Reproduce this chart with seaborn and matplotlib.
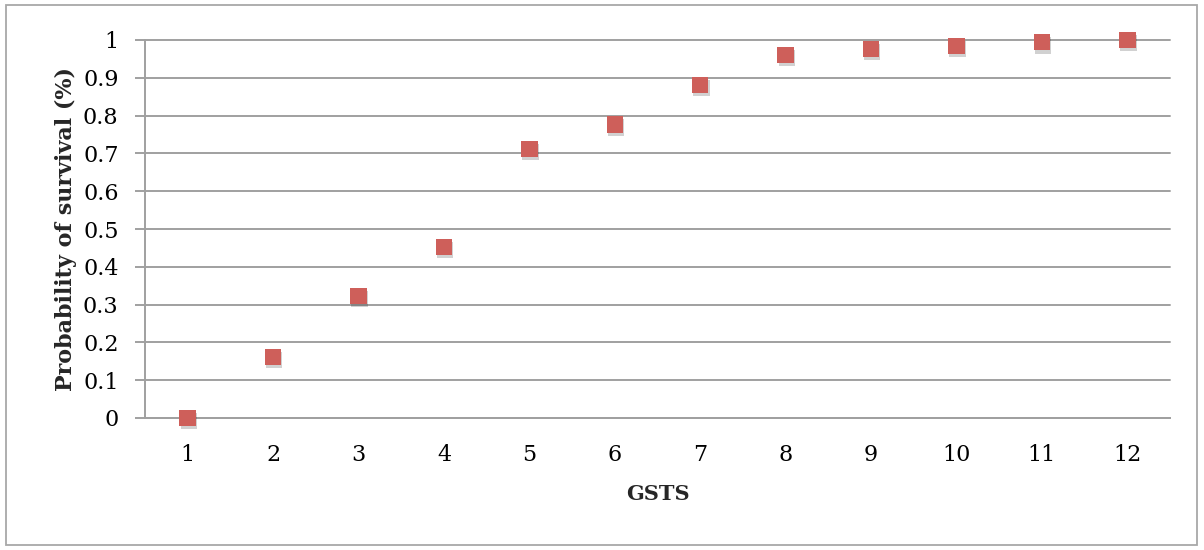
import matplotlib
matplotlib.use("Agg")
import matplotlib.pyplot as plt
import matplotlib.patheffects as pe
import seaborn as sns
import pandas as pd
from matplotlib.patches import Rectangle

# GSTS category and probability of survival
gsts = [1, 2, 3, 4, 5, 6, 7, 8, 9, 10, 11, 12]
survival = [0.0, 0.162, 0.323, 0.452, 0.712, 0.777, 0.881, 0.960, 0.976, 0.984, 0.994, 1.0]
y_ticks = [0, 0.1, 0.2, 0.3, 0.4, 0.5, 0.6, 0.7, 0.8, 0.9, 1]
y_tick_labels = ["0", "0.1", "0.2", "0.3", "0.4", "0.5", "0.6", "0.7", "0.8", "0.9", "1"]

df = pd.DataFrame({"GSTS": gsts, "survival": survival})

sns.set_theme(style="white")
plt.rcParams["font.family"] = ["DejaVu Serif"]

fig = plt.figure(figsize=(12.04, 5.5), dpi=100)
ax = fig.add_axes([145 / 1204, 1 - 418 / 550, (1170 - 145) / 1204, (418 - 40) / 550])

grid_color = "#A0A0A0"
marker_color = "#CE5F5A"

ax.set_xlim(0.5, 12.5)
ax.set_ylim(0, 1)
ax.set_yticks(y_ticks)
ax.set_yticklabels(y_tick_labels)
ax.set_xticks(gsts)
ax.set_xticklabels([str(g) for g in gsts])

for yv in y_ticks:
    ax.axhline(yv, color=grid_color, lw=1.4, zorder=1, clip_on=False)

sns.scatterplot(
    data=df, x="GSTS", y="survival", ax=ax, marker="s", s=140,
    color=marker_color, linewidth=0, zorder=3, clip_on=False,
    path_effects=[pe.SimplePatchShadow(offset=(0.8, -2.2), shadow_rgbFace="#000000", alpha=0.18), pe.Normal()],
)

for side in ["top", "right"]:
    ax.spines[side].set_visible(False)
ax.spines["left"].set_color(grid_color)
ax.spines["left"].set_linewidth(1.4)
ax.spines["bottom"].set_color(grid_color)
ax.spines["bottom"].set_linewidth(1.4)

ax.tick_params(axis="y", which="both", left=True, length=7, width=1.4, color=grid_color,
               labelsize=16, pad=12, labelcolor="#000000")
ax.tick_params(axis="x", which="both", bottom=False, labelsize=16, pad=13, labelcolor="#000000")

ax.set_xlabel("GSTS", fontsize=15, fontweight="bold", labelpad=13)
ax.set_ylabel("Probability of survival (%)", fontsize=16, fontweight="bold", labelpad=4)

# chart frame
fig.patches.append(Rectangle((6 / 1204, 5 / 550), (1197 - 6) / 1204, (545 - 5) / 550,
                             transform=fig.transFigure, fill=False, edgecolor="#A8A8A8", lw=1.3))

fig.savefig("out.png", dpi=100, facecolor="white")
